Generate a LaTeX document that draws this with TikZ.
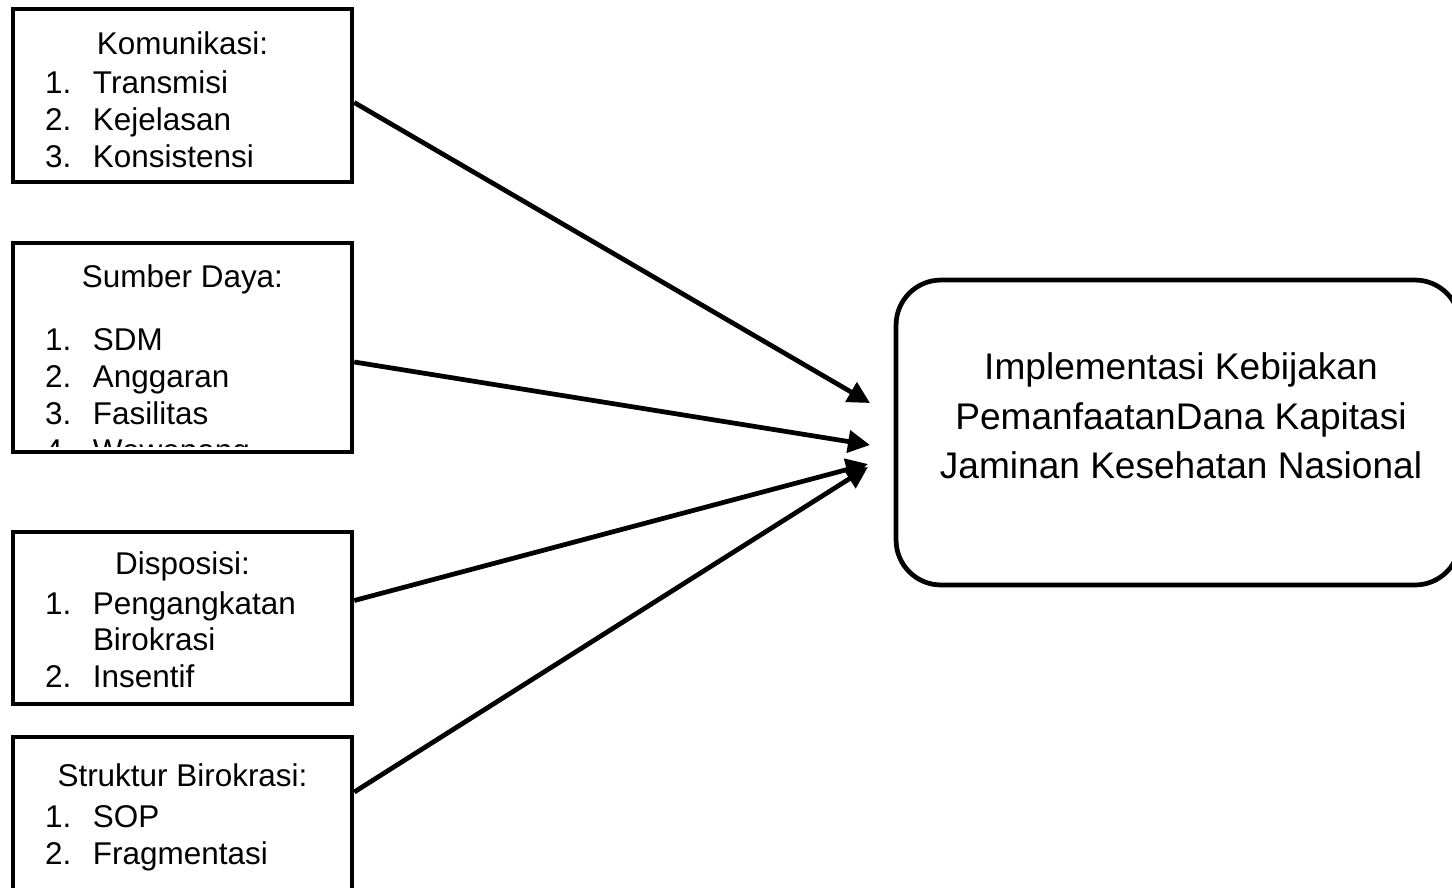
\documentclass[tikz,border=0pt]{standalone}
\usepackage{fontspec}
\setmainfont{Liberation Sans}
\usetikzlibrary{arrows.meta}

\begin{document}
\begin{tikzpicture}[x=0.02cm,y=-0.02cm,
   kotak/.style={draw,line width=2.6pt,inner sep=0pt,minimum width=6.78cm},
   isi/.style={inner sep=0pt,anchor=base,font=\fontsize{17.9pt}{21.06pt}\selectfont},
   panah/.style={-{Triangle[length=0.44cm,width=0.44cm]},line width=2.7pt}]
   \useasboundingbox (0,0) rectangle (1452,887);
   \clip (0,0) rectangle (1452,887);
   \node[kotak,minimum height=3.46cm] (kom) at (182.5,95.5) {};
   \node[isi] (komisi) at ([yshift=-0.96cm]kom.north) {\begin{tabular}[t]{@{}p{0.96cm}@{}p{4.54cm}@{}}
      \multicolumn{2}{@{}c@{}}{Komunikasi:}\\[0.04cm]
      1. & Transmisi\\
      2. & Kejelasan\\
      3. & Konsistensi
   \end{tabular}};
   \node[kotak,minimum height=4.18cm] (sdaya) at (182.5,347.5) {};
   \begin{scope}
      \clip ([yshift=0.15cm]sdaya.south west) rectangle (sdaya.north east);
      \node[isi] (sdayaisi) at ([yshift=-0.94cm]sdaya.north) {\begin{tabular}[t]{@{}p{0.96cm}@{}p{4.54cm}@{}}
         \multicolumn{2}{@{}c@{}}{Sumber Daya:}\\[0.52cm]
         1. & SDM\\
         2. & Anggaran\\
         3. & Fasilitas\\
         4. & Wewenang
      \end{tabular}};
   \end{scope}
   \node[kotak,minimum height=3.44cm] (dispo) at (182.5,618) {};
   \node[isi] (dispoisi) at ([yshift=-0.9cm]dispo.north) {\begin{tabular}[t]{@{}p{0.96cm}@{}p{4.54cm}@{}}
      \multicolumn{2}{@{}c@{}}{Disposisi:}\\[0.06cm]
      1. & Pengangkatan\\[-0.02cm]
         & Birokrasi\\
      2. & Insentif
   \end{tabular}};
   \node[kotak,minimum height=3.4cm] (struk) at (182.5,822) {};
   \node[isi] (strukisi) at ([yshift=-1.04cm]struk.north) {\begin{tabular}[t]{@{}p{0.96cm}@{}p{4.54cm}@{}}
      \multicolumn{2}{@{}c@{}}{Struktur Birokrasi:}\\[0.08cm]
      1. & SOP\\
      2. & Fragmentasi
   \end{tabular}};
   \node[draw,line width=2.7pt,rounded corners=0.9cm,minimum width=11.28cm,minimum height=6.1cm] (impl) at (1178,432.5) {};
   \node[inner sep=0pt,anchor=base,font=\fontsize{21.1pt}{28.2pt}\selectfont] (impltks) at ([xshift=0.06cm,yshift=-2.04cm]impl.north) {\begin{tabular}[t]{@{}c@{}}
      Implementasi Kebijakan\\
      PemanfaatanDana Kapitasi\\
      Jaminan Kesehatan Nasional
   \end{tabular}};
   \coordinate (u1) at (870,403);
   \coordinate (u2) at (870,445);
   \coordinate (u3) at (868,464);
   \coordinate (u4) at (868,467);
   \draw[panah] ([yshift=-0.14cm]kom.east) -- (u1);
   \draw[panah] ([yshift=-0.29cm]sdaya.east) -- (u2);
   \draw[panah] ([yshift=0.35cm]dispo.east) -- (u3);
   \draw[panah] ([yshift=0.6cm]struk.east) -- (u4);
\end{tikzpicture}
\end{document}
